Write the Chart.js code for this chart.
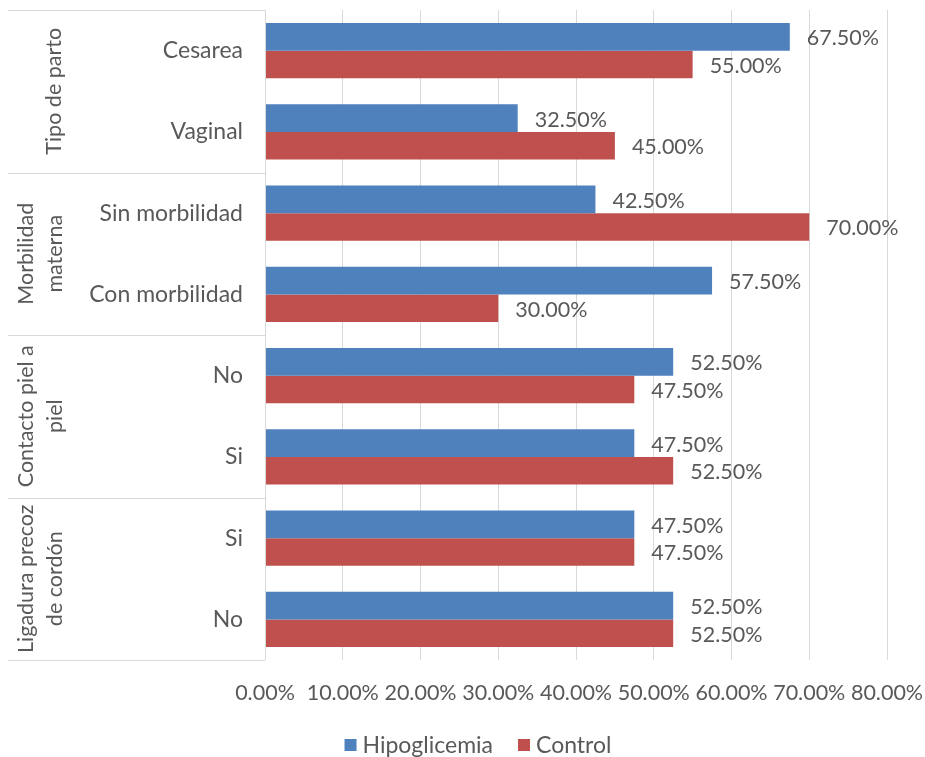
<!DOCTYPE html>
<html>
<head>
<meta charset="utf-8">
<script src="https://cdn.jsdelivr.net/npm/chart.js@4.4.1/dist/chart.umd.min.js"></script>
<style>
html,body{margin:0;padding:0;background:#fff}
#wrap{width:925px;height:757px;position:relative}
</style>
</head>
<body>
<div id="wrap"><canvas id="myChart"></canvas></div>
<script>
// datos
var categorias=['Cesarea','Vaginal','Sin morbilidad','Con morbilidad','No','Si','Si','No']
var grupos=[['Tipo de parto'],['Morbilidad','materna'],['Contacto piel a','piel'],['Ligadura precoz','de cordón']]
var gruposTam=[2,2,2,2]
var hipoglicemia=[67.5,32.5,42.5,57.5,52.5,47.5,47.5,52.5]
var control=[55,45,70,30,47.5,52.5,47.5,52.5]
var series=['Hipoglicemia','Control']
var colores=['#4F81BD','#C0504D']
var xMin=0, xMax=80, xPaso=10

var fuente='Lato, "Liberation Sans", sans-serif'
var tam=23
var tamNum=21.5
var tamGrupo=21.5
var gris='#595959'
var linea='#D9D9D9'

Chart.defaults.font.family=fuente
Chart.defaults.font.size=tam
Chart.defaults.color=gris

const decor={
  id:'decor',
  afterDraw(chart){
    const ctx=chart.ctx
    const area=chart.chartArea
    const y=chart.scales.y
    ctx.save()
    // lineas separadoras de grupos
    var bordes=[area.top]
    var idx=0
    for(var g=0;g<gruposTam.length;g++){
      idx+=gruposTam[g]
      if(idx<categorias.length){
        bordes.push((y.getPixelForValue(idx-1)+y.getPixelForValue(idx))/2)
      } else {
        bordes.push(area.bottom)
      }
    }
    ctx.strokeStyle=linea
    ctx.lineWidth=1
    bordes.forEach(function(b){
      var yy=Math.round(b)+0.5
      ctx.beginPath(); ctx.moveTo(8,yy); ctx.lineTo(area.left,yy); ctx.stroke()
    })
    ctx.beginPath(); ctx.moveTo(Math.round(area.left)+0.5,area.top); ctx.lineTo(Math.round(area.left)+0.5,area.bottom); ctx.stroke()

    // etiquetas de grupo giradas
    ctx.fillStyle=gris
    ctx.font=tamGrupo+'px '+fuente
    ctx.textAlign='center'
    ctx.textBaseline='alphabetic'
    for(var g=0;g<grupos.length;g++){
      var cy=(bordes[g]+bordes[g+1])/2
      var lineas=grupos[g]
      var bases=lineas.length==1?[61]:[33,62]
      for(var k=0;k<lineas.length;k++){
        ctx.save()
        ctx.translate(bases[k],cy)
        ctx.rotate(-Math.PI/2)
        ctx.fillText(lineas[k],0,0)
        ctx.restore()
      }
    }

    // etiquetas de datos
    ctx.font=tamNum+'px '+fuente
    ctx.textAlign='left'
    ctx.textBaseline='middle'
    chart.data.datasets.forEach(function(ds,d){
      chart.getDatasetMeta(d).data.forEach(function(bar,i){
        ctx.fillText(ds.data[i].toFixed(2)+'%',bar.x+17,bar.y+1.5)
      })
    })

    // leyenda
    ctx.font=tam+'px '+fuente
    var caja=12, sep=6, entre=25
    var anchos=series.map(function(s){return ctx.measureText(s).width})
    var total=0
    anchos.forEach(function(w,i){total+=caja+sep+w+(i?entre:0)})
    var x=478-total/2
    var ly=745
    series.forEach(function(s,i){
      ctx.fillStyle=colores[i]
      ctx.fillRect(x,ly-6,caja,caja)
      ctx.fillStyle=gris
      ctx.fillText(s,x+caja+sep,ly+1)
      x+=caja+sep+anchos[i]+entre
    })
    ctx.restore()
  }
}

var ctx=document.getElementById('myChart').getContext('2d')
const chart=new Chart(ctx,{
  type:'bar',
  data:{
    labels:categorias,
    datasets:[
      {label:series[0],backgroundColor:colores[0],data:hipoglicemia,categoryPercentage:0.68,barPercentage:1},
      {label:series[1],backgroundColor:colores[1],data:control,categoryPercentage:0.68,barPercentage:1}
    ]
  },
  options:{
    indexAxis:'y',
    responsive:true,
    maintainAspectRatio:false,
    animation:false,
    layout:{padding:{top:10,left:0,right:0,bottom:50}},
    plugins:{legend:{display:false},tooltip:{enabled:false}},
    scales:{
      x:{
        min:xMin,max:xMax,
        grid:{color:linea,drawTicks:false},
        border:{display:false},
        ticks:{stepSize:xPaso,autoSkip:false,maxRotation:0,padding:20,font:{size:tamNum},
          callback:function(v){return v.toFixed(2)+'%'}},
        afterFit:function(s){s.height=47;s.paddingRight=38;s.paddingLeft=0}
      },
      y:{
        grid:{display:false,drawTicks:false},
        border:{display:false},
        ticks:{padding:22,autoSkip:false},
        afterFit:function(s){s.width=265;s.paddingTop=0;s.paddingBottom=0}
      }
    }
  },
  plugins:[decor]
})
</script>
</body>
</html>
